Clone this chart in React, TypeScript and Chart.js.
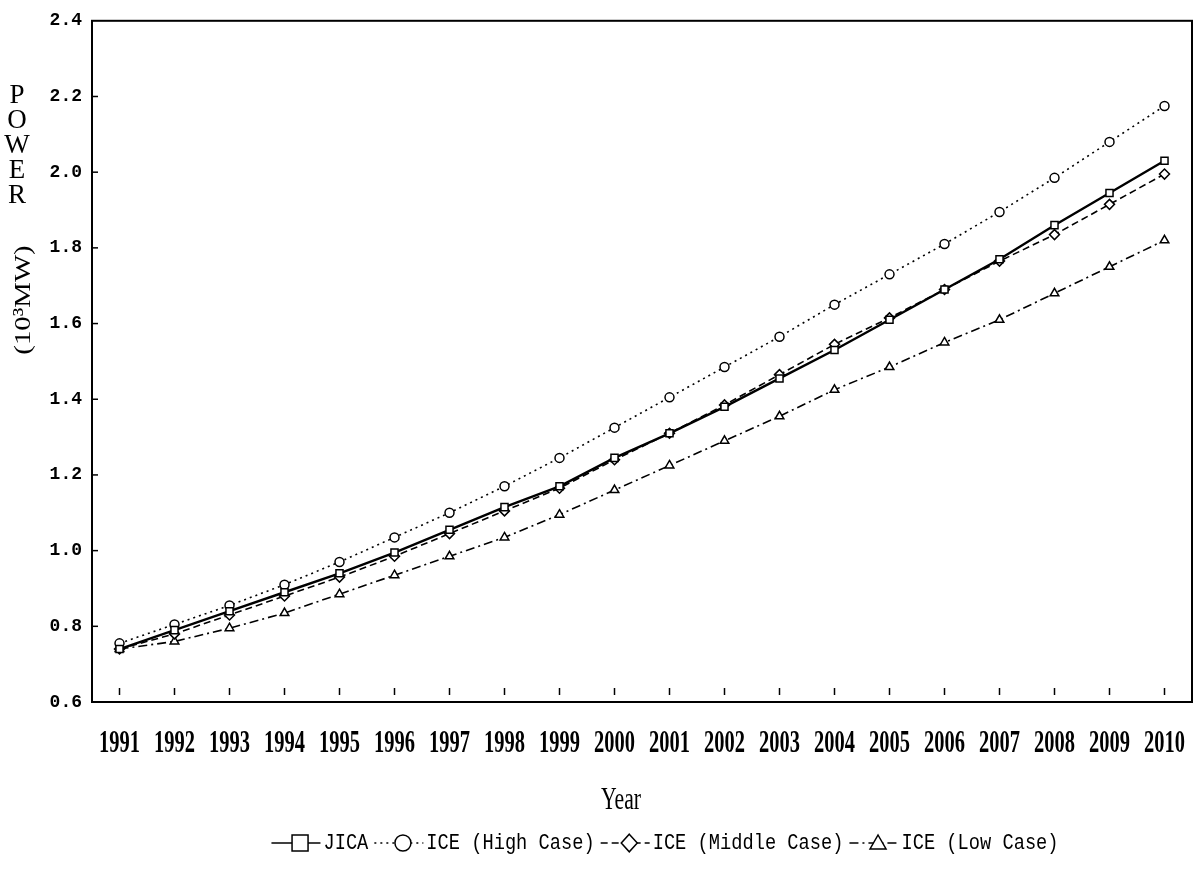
import React, { useEffect, useRef } from "react";
import { Chart, registerables } from "chart.js";

Chart.register(...registerables);

const years = ["1991","1992","1993","1994","1995","1996","1997","1998","1999","2000","2001","2002","2003","2004","2005","2006","2007","2008","2009","2010"];
const jica = [0.74, 0.79, 0.84, 0.89, 0.94, 0.995, 1.055, 1.115, 1.17, 1.245, 1.31, 1.38, 1.455, 1.53, 1.61, 1.69, 1.77, 1.86, 1.945, 2.03];
const highCase = [0.755, 0.805, 0.855, 0.91, 0.97, 1.035, 1.10, 1.17, 1.245, 1.325, 1.405, 1.485, 1.565, 1.65, 1.73, 1.81, 1.895, 1.985, 2.08, 2.175];
const middleCase = [0.74, 0.78, 0.83, 0.88, 0.93, 0.985, 1.045, 1.105, 1.165, 1.24, 1.31, 1.385, 1.465, 1.545, 1.615, 1.69, 1.765, 1.835, 1.915, 1.995];
const lowCase = [0.74, 0.76, 0.795, 0.835, 0.885, 0.935, 0.985, 1.035, 1.095, 1.16, 1.225, 1.29, 1.355, 1.425, 1.485, 1.55, 1.61, 1.68, 1.75, 1.82];
const seriesNames = ["JICA", "ICE (High Case)", "ICE (Middle Case)", "ICE (Low Case)"];
const yAxisWord = "POWER";
const yAxisUnit = "(10³MW)";
const xAxisTitle = "Year";

const styles = [
  { point: "rect", dash: [] as number[], width: 2.4, r: 5 },
  { point: "circle", dash: [2, 4], width: 1.6, r: 4.5 },
  { point: "rectRot", dash: [7, 4], width: 1.6, r: 5 },
  { point: "triangle", dash: [9, 4, 2, 4], width: 1.6, r: 5 },
];

function drawMarker(ctx: CanvasRenderingContext2D, style: string, x: number, y: number, r: number) {
  ctx.beginPath();
  if (style === "rect") {
    ctx.rect(x - r, y - r, 2 * r, 2 * r);
  } else if (style === "circle") {
    ctx.arc(x, y, r, 0, Math.PI * 2);
  } else if (style === "rectRot") {
    ctx.moveTo(x, y - r * 1.1);
    ctx.lineTo(x + r, y);
    ctx.lineTo(x, y + r * 1.1);
    ctx.lineTo(x - r, y);
    ctx.closePath();
  } else {
    ctx.moveTo(x, y - r);
    ctx.lineTo(x + r, y + r * 0.75);
    ctx.lineTo(x - r, y + r * 0.75);
    ctx.closePath();
  }
  ctx.fillStyle = "#fff";
  ctx.fill();
  ctx.stroke();
}

const decor = {
  id: "decor",
  afterDraw(chart: any) {
    const { ctx, chartArea: a, scales } = chart;
    const line = (x1: number, y1: number, x2: number, y2: number) => {
      ctx.beginPath();
      ctx.moveTo(x1, y1);
      ctx.lineTo(x2, y2);
      ctx.stroke();
    };
    ctx.save();
    ctx.strokeStyle = "#000";
    ctx.lineWidth = 2;
    ctx.setLineDash([]);
    ctx.strokeRect(a.left, a.top, a.right - a.left, a.bottom - a.top);
    ctx.lineWidth = 1.5;
    scales.y.ticks.forEach((t: any) => {
      const y = scales.y.getPixelForValue(t.value);
      if (y > a.top + 2 && y < a.bottom - 2) line(a.left, y, a.left + 6, y);
    });
    years.forEach((_, i) => {
      const x = scales.x.getPixelForValue(i);
      line(x, a.bottom - 14, x, a.bottom - 7);
    });
    ctx.fillStyle = "#000";
    ctx.textAlign = "center";
    ctx.textBaseline = "middle";
    // x labels
    years.forEach((yr, i) => {
      const x = scales.x.getPixelForValue(i);
      ctx.save();
      ctx.translate(x, 744);
      ctx.scale(0.66, 1);
      ctx.font = 'bold 31px "Liberation Serif"';
      ctx.fillText(yr, 0, 0);
      ctx.restore();
    });
    // x title
    ctx.save();
    ctx.translate(621, 801);
    ctx.scale(0.7, 1);
    ctx.font = '31px "Liberation Serif"';
    ctx.fillText(xAxisTitle, 0, 0);
    ctx.restore();
    // y title letters
    ctx.font = '27px "Liberation Serif"';
    yAxisWord.split("").forEach((ch, i) => {
      ctx.fillText(ch, 17, 96 + i * 25);
    });
    ctx.save();
    ctx.translate(24, 300);
    ctx.rotate(-Math.PI / 2);
    ctx.scale(1.2, 1);
    ctx.font = '24px "Liberation Serif"';
    ctx.fillText(yAxisUnit, 0, 0);
    ctx.restore();
    // legend
    const sx = 0.85;
    ctx.font = '22px "Liberation Mono"';
    const symW = 52;
    const gap = 6;
    const widths = seriesNames.map((n) => ctx.measureText(n).width * sx);
    const total = widths.reduce((s, w) => s + w, 0) + seriesNames.length * symW + (seriesNames.length - 1) * gap;
    let x = 665 - total / 2;
    const ly = 843;
    seriesNames.forEach((n, i) => {
      const st = styles[i];
      ctx.lineWidth = 1.5;
      ctx.setLineDash(st.dash);
      line(x, ly, x + symW - 3, ly);
      ctx.setLineDash([]);
      drawMarker(ctx, st.point, x + symW * 0.55, ly, 8);
      x += symW;
      ctx.save();
      ctx.translate(x, ly);
      ctx.scale(sx, 1);
      ctx.textAlign = "left";
      ctx.fillStyle = "#000";
      ctx.fillText(n, 0, 0);
      ctx.restore();
      x += widths[i] + gap;
    });
    ctx.restore();
  },
};

export default function App() {
  const ref = useRef<HTMLCanvasElement>(null);
  useEffect(() => {
    document.body.style.margin = "0";
    const canvas = ref.current!;
    const data = [jica, highCase, middleCase, lowCase];
    const chart = new Chart(canvas, {
      type: "line",
      data: {
        labels: years,
        datasets: data.map((d, i) => ({
          label: seriesNames[i],
          data: d,
          borderColor: "#000",
          borderWidth: styles[i].width,
          borderDash: styles[i].dash,
          pointStyle: styles[i].point as any,
          pointRadius: styles[i].r,
          pointBackgroundColor: "#fff",
          pointBorderColor: "#000",
          pointBorderWidth: 1.5,
          tension: 0,
          fill: false,
        })),
      },
      options: {
        responsive: false,
        animation: false,
        layout: { padding: { top: 16, right: 11, left: 0, bottom: 0 } },
        plugins: { legend: { display: false }, tooltip: { enabled: false } },
        scales: {
          x: {
            type: "category",
            offset: true,
            grid: { display: false, drawTicks: false },
            ticks: { display: false },
            border: { display: true, color: "#000", width: 2 },
            afterFit: (s: any) => { s.height = 167; },
          },
          y: {
            min: 0.6,
            max: 2.4,
            ticks: {
              stepSize: 0.2,
              color: "#000",
              padding: 10,
              font: { family: '"Liberation Mono"', size: 18, weight: "bold" },
              callback: (v: any) => Number(v).toFixed(1),
            },
            grid: { display: false, drawTicks: false },
            border: { display: true, color: "#000", width: 2 },
            afterFit: (s: any) => { s.width = 92; },
          },
        },
      },
      plugins: [decor],
    });
    return () => chart.destroy();
  }, []);
  return <canvas ref={ref} width={1203} height={869} style={{ display: "block" }} />;
}
